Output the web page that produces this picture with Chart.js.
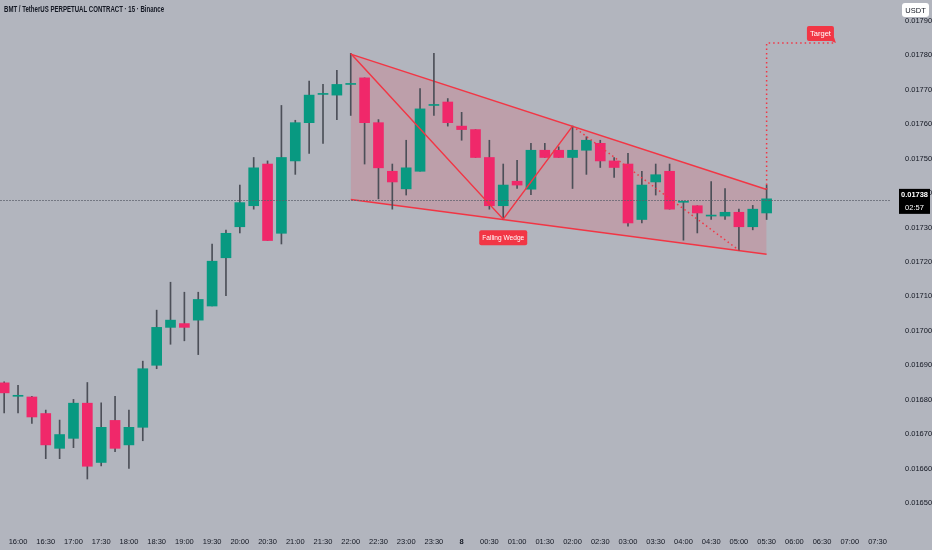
<!DOCTYPE html>
<html>
<head>
<meta charset="utf-8">
<title>BMT / TetherUS PERPETUAL CONTRACT · 15 · Binance</title>
<script src="https://cdn.jsdelivr.net/npm/chart.js@4.4.1/dist/chart.umd.min.js"></script>
<style>
  html, body { margin: 0; padding: 0; background: #b2b5be; }
  #wrap { width: 932px; height: 550px; }
</style>
</head>
<body>
<div id="wrap"><canvas id="candles"></canvas></div>
<script>
// ── DATA (15 min candles, 15:45 → 05:30) ──
const timeLabels = ['16:00','16:30','17:00','17:30','18:00','18:30','19:00','19:30','20:00','20:30',
  '21:00','21:30','22:00','22:30','23:00','23:30','8','00:30','01:00','01:30','02:00','02:30',
  '03:00','03:30','04:00','04:30','05:00','05:30','06:00','06:30','07:00','07:30'];
const priceTicks = [0.0165, 0.0166, 0.0167, 0.0168, 0.0169, 0.0170, 0.0171, 0.0172,
  0.0173, 0.0174, 0.0175, 0.0176, 0.0177, 0.0178, 0.0179];

const opens  = [0.016849,0.016810,0.016808,0.016760,0.016659,0.016688,0.016790,0.016618,0.016740,0.016669,
  0.016720,0.016900,0.017010,0.017021,0.017031,0.017072,0.017212,0.017302,0.017363,0.017484,
  0.017283,0.017493,0.017604,0.017686,0.017684,0.017715,0.017734,0.017604,0.017463,0.017412,
  0.017463,0.017654,0.017664,0.017594,0.017584,0.017503,0.017363,0.017434,0.017411,0.017524,
  0.017524,0.017503,0.017524,0.017544,0.017493,0.017484,0.017323,0.017432,0.017463,0.017373,
  0.017363,0.017333,0.017333,0.017344,0.017302,0.017342];
const highs  = [0.016852,0.016842,0.016810,0.016770,0.016741,0.016801,0.016850,0.016791,0.016810,0.016770,
  0.016912,0.017060,0.017141,0.017112,0.017112,0.017252,0.017292,0.017423,0.017503,0.017493,
  0.017654,0.017611,0.017725,0.017715,0.017756,0.017805,0.017734,0.017613,0.017484,0.017553,
  0.017703,0.017805,0.017674,0.017634,0.017584,0.017553,0.017484,0.017495,0.017544,0.017544,
  0.017534,0.017594,0.017563,0.017553,0.017503,0.017515,0.017463,0.017484,0.017484,0.017376,
  0.017363,0.017433,0.017413,0.017353,0.017364,0.017423];
const lows   = [0.016762,0.016762,0.016731,0.016629,0.016629,0.016661,0.016570,0.016608,0.016649,0.016601,
  0.016681,0.016890,0.016961,0.016971,0.016931,0.017072,0.017102,0.017284,0.017353,0.017262,
  0.017252,0.017454,0.017515,0.017544,0.017613,0.017625,0.017484,0.017383,0.017353,0.017394,
  0.017463,0.017625,0.017594,0.017553,0.017503,0.017353,0.017324,0.017413,0.017395,0.017503,
  0.017503,0.017413,0.017454,0.017474,0.017445,0.017304,0.017313,0.017394,0.017353,0.017263,
  0.017284,0.017323,0.017323,0.017234,0.017293,0.017323];
const closes = [0.016820,0.016810,0.016750,0.016669,0.016699,0.016790,0.016607,0.016720,0.016659,0.016720,
  0.016890,0.017010,0.017031,0.017010,0.017091,0.017202,0.017283,0.017372,0.017473,0.017262,
  0.017503,0.017604,0.017684,0.017686,0.017715,0.017715,0.017604,0.017473,0.017432,0.017473,
  0.017644,0.017654,0.017604,0.017584,0.017503,0.017363,0.017423,0.017423,0.017524,0.017503,
  0.017503,0.017524,0.017553,0.017493,0.017474,0.017313,0.017423,0.017453,0.017353,0.017373,
  0.017342,0.017333,0.017344,0.017302,0.017353,0.017383];

// ── PATTERN DRAWINGS (candle index, price) ──
const wedgeTopX = [25, 55],     wedgeTopY = [0.017803, 0.017410];
const wedgeBotX = [25, 55],     wedgeBotY = [0.017381, 0.017222];
const legsX     = [25, 36, 41], legsY     = [0.017805, 0.017324, 0.017594];
const dashLegX  = [41, 53],     dashLegY  = [0.017594, 0.017234];
const targetX   = [55, 55, 60], targetY   = [0.017410, 0.017835, 0.017835];
const lastPrice = 0.01738;
const countdown = '02:57';

const UP = '#089981', DOWN = '#f0286a', WICK = '#4c4f58', RED = '#f23645';
const FONT = '"Liberation Sans", Arial, sans-serif';
const pts = (xs, ys) => xs.map((x, i) => ({ x, y: ys[i] }));

const bodyColors = closes.map((c, i) => c >= opens[i] ? UP : DOWN);

// ── PLUGINS ──
const chartBg = {
  id: 'chartBg',
  beforeDraw(chart) {
    const c = chart.ctx;
    c.save();
    c.fillStyle = '#b2b5be';
    c.fillRect(0, 0, chart.width, chart.height);
    c.restore();
  }
};

const priceLine = {
  id: 'priceLine',
  afterDatasetsDraw(chart) {
    const { ctx: c, chartArea: a, scales: { y } } = chart;
    const py = Math.round(y.getPixelForValue(lastPrice)) + 0.5;
    c.save();
    c.strokeStyle = 'rgba(90,94,106,0.7)';
    c.lineWidth = 1;
    c.setLineDash([2, 1]);
    c.beginPath(); c.moveTo(a.left, py); c.lineTo(a.right, py); c.stroke();
    c.restore();
  }
};

function tag(c, text, cx, cy, w, h) {
  c.fillStyle = RED;
  c.beginPath(); c.roundRect(cx - w / 2, cy - h / 2, w, h, 2); c.fill();
  c.fillStyle = '#fff';
  c.textAlign = 'center'; c.textBaseline = 'middle';
  c.fillText(text, cx, cy + 0.5, w - 6);
}

const overlay = {
  id: 'overlay',
  afterDraw(chart) {
    const { ctx: c, scales: { x, y } } = chart;
    c.save();
    // title
    c.fillStyle = '#131722';
    c.font = 'bold 8.5px ' + FONT;
    c.textAlign = 'left'; c.textBaseline = 'middle';
    c.fillText('BMT / TetherUS PERPETUAL CONTRACT · 15 · Binance', 4, 10, 160);

    // pattern labels
    c.font = '8px ' + FONT;
    const wx = x.getPixelForValue(legsX[1]), wy = y.getPixelForValue(legsY[1]);
    tag(c, 'Falling Wedge', wx, wy + 18.5, 48, 15);

    const tx = x.getPixelForValue(targetX[2]), ty = y.getPixelForValue(targetY[2]);
    c.fillStyle = RED;
    c.beginPath(); c.moveTo(tx - 7, ty - 3); c.lineTo(tx, ty); c.lineTo(tx - 2, ty - 6); c.fill();
    tag(c, 'Target', tx - 15.5, ty - 9.5, 27, 15);

    // USDT box
    c.fillStyle = '#fff';
    c.beginPath(); c.roundRect(902, 3, 27, 14, 3); c.fill();
    c.fillStyle = '#131722';
    c.font = '7.5px ' + FONT;
    c.textAlign = 'center';
    c.fillText('USDT', 915.5, 10.5, 22);

    // last price label
    const py = y.getPixelForValue(lastPrice);
    c.fillStyle = '#000';
    c.fillRect(899, py - 11, 31, 25);
    c.fillStyle = '#fff';
    c.font = 'bold 7.5px ' + FONT;
    c.fillText(lastPrice.toFixed(5), 914.5, py - 5, 27);
    c.font = '7.5px ' + FONT;
    c.fillText(countdown, 914.5, py + 8, 27);
    c.restore();
  }
};

// ── CHART ──
new Chart(document.getElementById('candles'), {
  type: 'bar',
  data: {
    datasets: [
      {
        label: 'Body',
        data: opens.map((o, i) => ({ x: i, y: [o, closes[i]] })),
        backgroundColor: bodyColors,
        barThickness: 10,
        minBarLength: 1,
        grouped: false,
        order: 1
      },
      {
        label: 'Wick',
        data: lows.map((l, i) => ({ x: i, y: [l, highs[i]] })),
        backgroundColor: WICK,
        barThickness: 1,
        grouped: false,
        order: 2
      },
      {
        type: 'line', label: 'Wedge top',
        data: pts(wedgeTopX, wedgeTopY),
        borderColor: RED, borderWidth: 1.5, pointRadius: 0,
        fill: '+1', backgroundColor: 'rgba(242,54,69,0.17)',
        order: 3
      },
      {
        type: 'line', label: 'Wedge bottom',
        data: pts(wedgeBotX, wedgeBotY),
        borderColor: RED, borderWidth: 1.5, pointRadius: 0, fill: false,
        order: 4
      },
      {
        type: 'line', label: 'Legs',
        data: pts(legsX, legsY),
        borderColor: RED, borderWidth: 1.5, pointRadius: 0, fill: false,
        order: 0
      },
      {
        type: 'line', label: 'Last leg',
        data: pts(dashLegX, dashLegY),
        borderColor: RED, borderWidth: 1.5, borderDash: [1.5, 3], pointRadius: 0, fill: false,
        order: 0
      },
      {
        type: 'line', label: 'Target',
        data: pts(targetX, targetY),
        borderColor: RED, borderWidth: 1.5, borderDash: [1.5, 3], pointRadius: 0, fill: false,
        order: 0
      }
    ]
  },
  options: {
    responsive: true,
    maintainAspectRatio: false,
    animation: false,
    events: [],
    layout: { padding: 0 },
    plugins: { legend: { display: false }, tooltip: { enabled: false } },
    scales: {
      x: {
        type: 'linear',
        min: -0.3, max: 63.9,
        offset: false,
        grid: { display: false, drawTicks: false },
        border: { display: false },
        afterBuildTicks: s => { s.ticks = timeLabels.map((t, i) => ({ value: 1 + 2 * i })); },
        afterFit: s => { s.height = 20; s.paddingLeft = 0; s.paddingRight = 0; },
        ticks: {
          autoSkip: false, maxRotation: 0, padding: 7,
          color: '#131722',
          font: c => ({ family: FONT, size: 7.5, weight: c.tick && c.tick.label === '8' ? 'bold' : 'normal' }),
          callback: (v, i) => timeLabels[i]
        }
      },
      y: {
        position: 'right',
        min: 0.016422, max: 0.017960,
        grid: { display: false, drawTicks: false },
        border: { display: false },
        afterBuildTicks: s => { s.ticks = priceTicks.map(v => ({ value: v })); },
        afterFit: s => { s.width = 42; s.paddingTop = 0; s.paddingBottom = 0; },
        ticks: {
          padding: 15,
          color: '#131722',
          font: { family: FONT, size: 7.5 },
          callback: v => v.toFixed(5)
        }
      }
    }
  },
  plugins: [chartBg, priceLine, overlay]
});
</script>
</body>
</html>
